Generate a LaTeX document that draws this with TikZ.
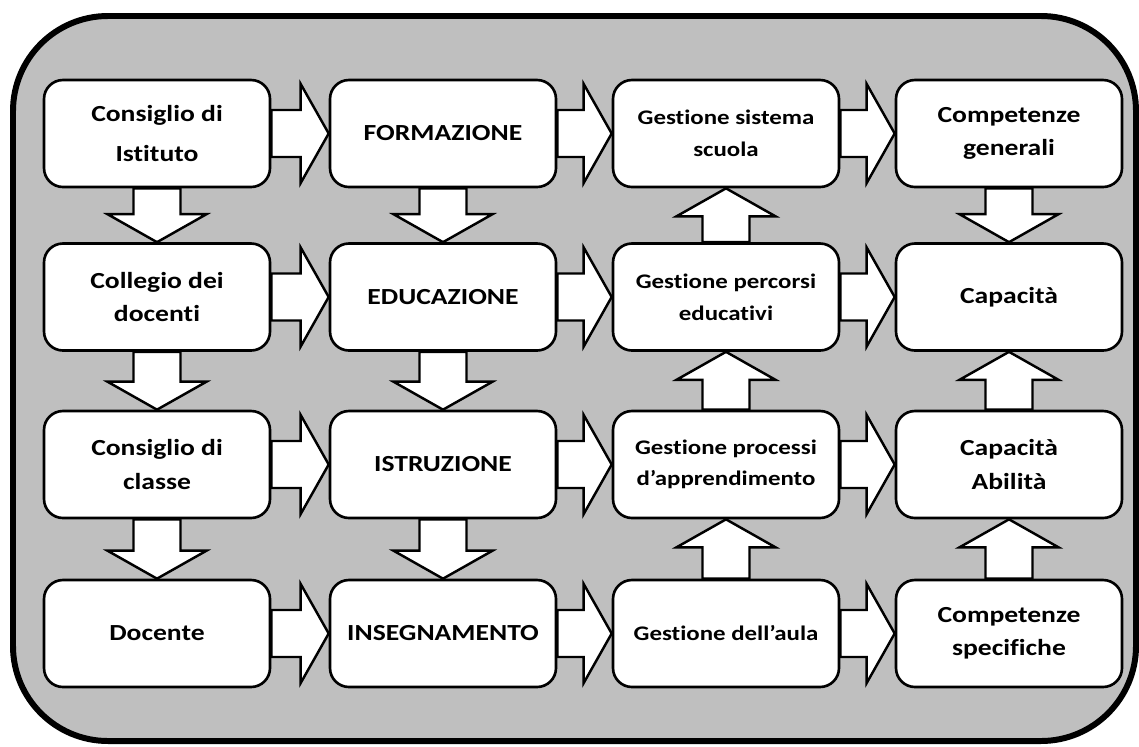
\documentclass[tikz,border=0pt]{standalone}
\usepackage{fontspec}
\setmainfont{Carlito}[FakeStretch=1.2, Ligatures=NoCommon]
\usetikzlibrary{calc}
\definecolor{panel}{RGB}{191,191,191}
\newcommand{\blockarrow}[2]{%
  \coordinate (hb) at ($(#2)!0.56cm!(#1)$);
  \draw[blk] ($(#1)!0.47cm!90:(#2)$) -- ($(hb)!0.47cm!90:(#2)$) -- ($(hb)!0.99cm!90:(#2)$) -- (#2)
    -- ($(hb)!0.99cm!-90:(#2)$) -- ($(hb)!0.47cm!-90:(#2)$) -- ($(#1)!0.47cm!-90:(#2)$) -- cycle;}
\begin{document}
\begin{tikzpicture}[
    box/.style={draw, line width=1.5pt, fill=white, rounded corners=0.38cm,
      minimum width=4.52cm, minimum height=2.14cm, inner sep=2pt, align=center,
      font=\bfseries\fontsize{13.1}{19}\selectfont},
    smallbox/.style={box, font=\bfseries\fontsize{11.8}{18}\selectfont},
    blk/.style={draw, fill=white, line width=1.4pt, line join=miter}]
  \useasboundingbox (0,0) rectangle (22.78,-14.92);
  \draw[line width=3.4pt, fill=panel, rounded corners=1.9cm] (0.26,-0.32) rectangle (22.72,-14.82);
  % organi
  \node[box] (ci) at (3.14,-2.67) {Consiglio di\\[4pt]Istituto};
  \node[box] (cd) at (3.14,-5.94) {Collegio dei\\docenti};
  \node[box] (cc) at (3.14,-9.29) {Consiglio di\\classe};
  \node[box] (doc) at (3.14,-12.67) {Docente};
  % funzioni
  \node[box] (form) at (8.86,-2.67) {FORMAZIONE};
  \node[box] (edu) at (8.86,-5.94) {EDUCAZIONE};
  \node[box] (istr) at (8.86,-9.29) {ISTRUZIONE};
  \node[box] (ins) at (8.86,-12.67) {INSEGNAMENTO};
  % gestione
  \node[smallbox] (gss) at (14.52,-2.67) {Gestione sistema\\scuola};
  \node[smallbox] (gpe) at (14.52,-5.94) {Gestione percorsi\\educativi};
  \node[smallbox] (gpa) at (14.52,-9.29) {Gestione processi\\d’apprendimento};
  \node[smallbox] (gda) at (14.52,-12.67) {Gestione dell’aula};
  % esiti
  \node[box] (cg) at (20.18,-2.67) {Competenze\\generali};
  \node[box] (cap) at (20.18,-5.94) {Capacità};
  \node[box] (cab) at (20.18,-9.29) {Capacità\\Abilità};
  \node[box] (cs) at (20.18,-12.67) {Competenze\\specifiche};
  \foreach \a/\b in {ci/form, form/gss, gss/cg, cd/edu, edu/gpe, gpe/cap,
                     cc/istr, istr/gpa, gpa/cab, doc/ins, ins/gda, gda/cs}
    \blockarrow{\a.east}{\b.west};
  \foreach \a/\b in {ci/cd, cd/cc, cc/doc, form/edu, edu/istr, istr/ins, cg/cap}
    \blockarrow{\a.south}{\b.north};
  \foreach \a/\b in {gpe/gss, gpa/gpe, gda/gpa, cab/cap, cs/cab}
    \blockarrow{\a.north}{\b.south};
\end{tikzpicture}
\end{document}
